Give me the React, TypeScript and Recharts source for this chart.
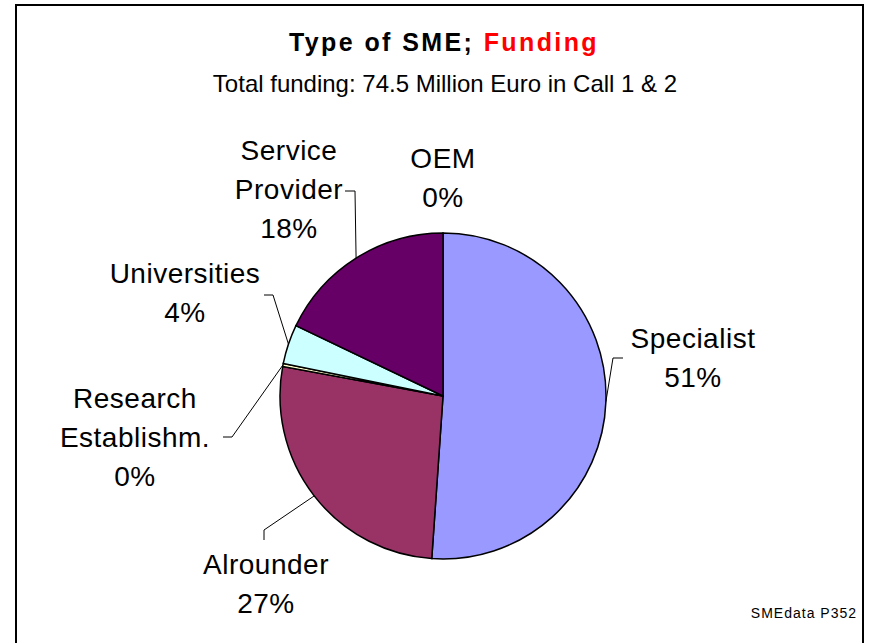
import { PieChart, Pie, Cell } from 'recharts';

const categories = ['Specialist', 'Alrounder', 'Research Establishm.', 'Universities', 'Service Provider', 'OEM'];
const funding = [51.1, 26.8, 0.3, 3.9, 17.9, 0];
const sliceColors = ['#9999FF', '#993366', '#FFFFCC', '#CCFFFF', '#660066', '#FF8080'];

const data = categories.map((name, i) => ({ name, value: funding[i] }));
const total = funding.reduce((a, b) => a + b, 0);

// label placement relative to pie centre (text centre / first baseline, elbow, end of leader)
const LABEL_LAYOUT = [
  { tx: 250, ty: -48, elbow: [170, -38], end: [180, -38] },
  { tx: -177, ty: 178, elbow: [-179, 134], end: [-179, 144] },
  { tx: -308, ty: 12, elbow: [-211, 41], end: [-220, 41] },
  { tx: -258, ty: -113, elbow: [-170, -101], end: [-179, -101] },
  { tx: -154, ty: -236, elbow: [-88, -205], end: [-98, -205] },
  { tx: 0, ty: -228, elbow: null, end: null },
];

const FONT = '"Liberation Sans", Arial, sans-serif';
const RAD = Math.PI / 180;

const renderLabel = (props: any) => {
  const { cx, cy, midAngle, outerRadius, index, value } = props;
  const lay = LABEL_LAYOUT[index];
  if (!lay) return null;
  const sx = cx + outerRadius * Math.cos(-midAngle * RAD);
  const sy = cy + outerRadius * Math.sin(-midAngle * RAD);
  const lines = [...categories[index].split(' '), `${Math.round((value / total) * 100)}%`];
  return (
    <g key={`lbl-${index}`}>
      {lay.elbow && lay.end && (
        <polyline
          points={`${sx},${sy} ${cx + lay.elbow[0]},${cy + lay.elbow[1]} ${cx + lay.end[0]},${cy + lay.end[1]}`}
          fill="none" stroke="#000" strokeWidth={1}
        />
      )}
      <text x={cx + lay.tx} y={cy + lay.ty} textAnchor="middle" fontFamily={FONT} fontSize={28}
        letterSpacing={0.5} fill="#000">
        {lines.map((l, i) => (
          <tspan key={i} x={cx + lay.tx} dy={i === 0 ? 0 : 39}>{l}</tspan>
        ))}
      </text>
    </g>
  );
};

export default function App() {
  return (
    <div style={{ position: 'absolute', left: 0, top: 0, width: 869, height: 643, background: '#fff', overflow: 'hidden' }}>
      {/* frame */}
      <div style={{ position: 'absolute', left: 15, top: 4, width: 849, height: 700, border: '2px solid #000', boxSizing: 'border-box' }} />

      <div style={{ position: 'absolute', left: 0, top: 0 }}>
        <PieChart width={869} height={643} margin={{ top: 0, right: 0, bottom: 0, left: 0 }}>
          <Pie
            data={data}
            dataKey="value"
            nameKey="name"
            cx={443}
            cy={396}
            innerRadius={0}
            outerRadius={163}
            startAngle={90}
            endAngle={-270}
            stroke="#000"
            strokeWidth={1.5}
            label={renderLabel}
            labelLine={false}
            isAnimationActive={false}
          >
            {data.map((d, i) => <Cell key={d.name} fill={sliceColors[i]} />)}
          </Pie>
        </PieChart>
      </div>

      <svg width={869} height={643} style={{ position: 'absolute', left: 0, top: 0, pointerEvents: 'none' }}>
        <text x={444} y={51} textAnchor="middle" fontFamily={FONT} fontSize={25} fontWeight="bold" letterSpacing={2.4}>
          <tspan fill="#000">Type of SME; </tspan>
          <tspan fill="#FF0000">Funding</tspan>
        </text>
        <text x={445} y={92} textAnchor="middle" fontFamily={FONT} fontSize={24} fill="#000">
          Total funding: 74.5 Million Euro in Call 1 &amp; 2
        </text>
        <text x={857} y={618} textAnchor="end" fontFamily={FONT} fontSize={14} letterSpacing={1} fill="#000">
          SMEdata P352
        </text>
      </svg>
    </div>
  );
}
